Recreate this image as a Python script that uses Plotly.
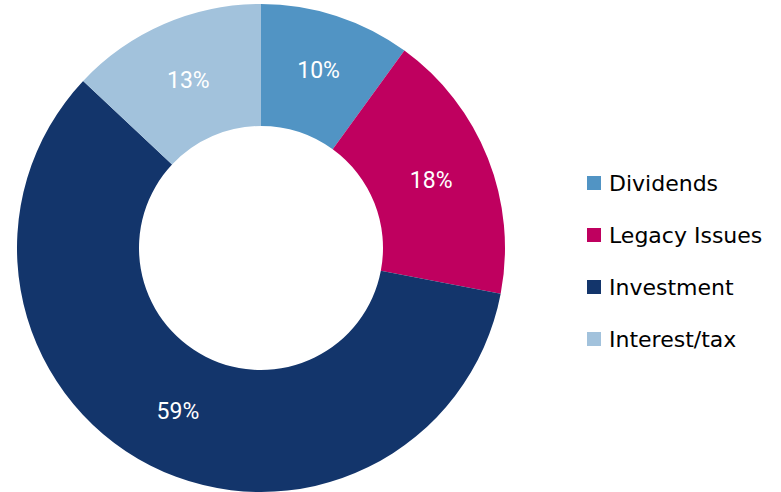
import plotly.graph_objects as go

categories = ["Dividends", "Legacy Issues", "Investment", "Interest/tax"]
shares = [10, 18, 59, 13]
colors = ["#5194c4", "#bf005f", "#13356b", "#a2c2dc"]

W, H = 781, 492

fig = go.Figure(
    go.Pie(
        labels=categories,
        values=shares,
        hole=0.5,
        sort=False,
        direction="clockwise",
        rotation=0,
        marker=dict(colors=colors, line=dict(width=0)),
        texttemplate="%{percent:.0%}",
        textposition="inside",
        insidetextorientation="horizontal",
        textfont=dict(family="Roboto", size=23, color="white"),
        domain=dict(x=[17 / W, 505 / W], y=[0, 488 / H]),
        hoverinfo="label+percent",
        showlegend=False,
    )
)

# Legend drawn as colour swatches and labels in a right-hand column
leg_x_box = 587
leg_box = 14
leg_x_text = 607
leg_y0 = 183
leg_step = 52

shapes = []
annotations = []
for i, (name, col) in enumerate(zip(categories, colors)):
    yc = leg_y0 + i * leg_step
    shapes.append(
        dict(
            type="rect",
            xref="paper",
            yref="paper",
            x0=leg_x_box / W,
            x1=(leg_x_box + leg_box) / W,
            y0=1 - (yc - leg_box / 2) / H,
            y1=1 - (yc + leg_box / 2) / H,
            fillcolor=col,
            line=dict(width=0),
        )
    )
    annotations.append(
        dict(
            text=name,
            xref="paper",
            yref="paper",
            x=leg_x_text / W,
            y=1 - yc / H,
            xanchor="left",
            yanchor="middle",
            showarrow=False,
            font=dict(family="DejaVu Sans", size=22, color="#000000"),
        )
    )

fig.update_layout(
    width=W,
    height=H,
    margin=dict(l=0, r=0, t=0, b=0),
    paper_bgcolor="white",
    plot_bgcolor="white",
    uniformtext=dict(minsize=23, mode="show"),
    shapes=shapes,
    annotations=annotations,
)

fig.write_html("out.html")
